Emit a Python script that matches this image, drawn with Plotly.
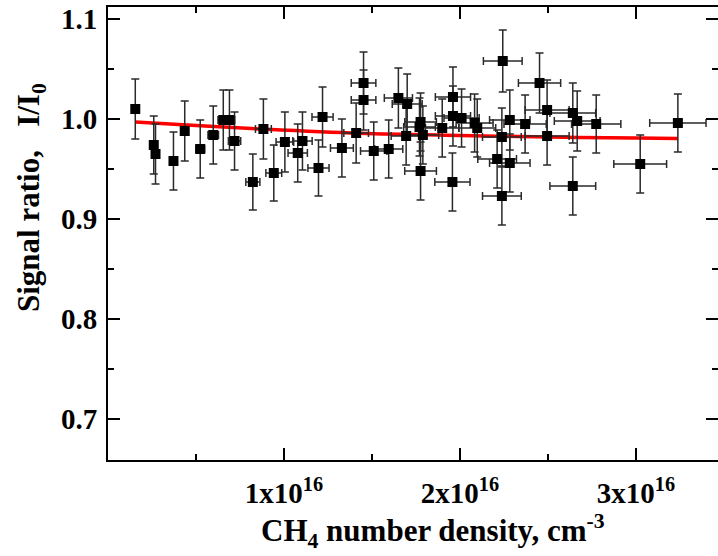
import numpy as np
import plotly.graph_objects as go

# CH4 number density (units of 1e16 cm^-3) and signal ratio I/I0
n_ch4 = [0.155, 0.26, 0.27, 0.372, 0.436, 0.524, 0.598, 0.655, 0.69, 0.719,
         0.823, 0.883, 0.942, 1.005, 1.078, 1.105, 1.196, 1.219, 1.329, 1.410,
         1.452, 1.452, 1.51, 1.595, 1.65, 1.694, 1.70, 1.77, 1.776, 1.776,
         1.789, 1.899, 1.957, 1.96, 1.96, 2.009, 2.083, 2.098, 2.211, 2.238,
         2.238, 2.243, 2.283, 2.283, 2.37, 2.452, 2.495, 2.495, 2.641, 2.641,
         2.666, 2.774, 3.024, 3.238]
ratio = [1.010, 0.974, 0.965, 0.958, 0.988, 0.970, 0.984, 0.999, 0.999, 0.978,
         0.937, 0.990, 0.946, 0.977, 0.966, 0.978, 0.951, 1.002, 0.971, 0.986,
         1.036, 1.019, 0.968, 0.970, 1.021, 0.983, 1.015, 0.992, 0.997, 0.948,
         0.984, 0.991, 0.937, 1.022, 1.003, 1.001, 0.996, 0.991, 0.960, 0.982,
         0.923, 1.058, 0.999, 0.956, 0.995, 1.036, 1.009, 0.983, 1.006, 0.933,
         0.998, 0.995, 0.955, 0.996]
n_err = [0.0, 0.01, 0.01, 0.015, 0.02, 0.025, 0.03, 0.03, 0.03, 0.035,
         0.04, 0.045, 0.045, 0.05, 0.055, 0.055, 0.06, 0.06, 0.065, 0.07,
         0.07, 0.07, 0.075, 0.08, 0.08, 0.085, 0.085, 0.09, 0.09, 0.09,
         0.09, 0.095, 0.10, 0.10, 0.10, 0.10, 0.105, 0.105, 0.11, 0.11,
         0.11, 0.11, 0.115, 0.115, 0.12, 0.12, 0.125, 0.125, 0.13, 0.13,
         0.13, 0.14, 0.15, 0.16]
ratio_err = [0.030, 0.029, 0.030, 0.029, 0.030, 0.029, 0.029, 0.030, 0.030, 0.029,
             0.028, 0.030, 0.028, 0.030, 0.029, 0.029, 0.028, 0.030, 0.029, 0.030,
             0.031, 0.030, 0.029, 0.029, 0.030, 0.029, 0.030, 0.029, 0.029, 0.029,
             0.029, 0.029, 0.029, 0.030, 0.030, 0.029, 0.029, 0.029, 0.029, 0.029,
             0.029, 0.031, 0.030, 0.029, 0.029, 0.030, 0.030, 0.029, 0.030, 0.029,
             0.030, 0.029, 0.029, 0.029]

# fitted curve (red)
fit_n = [0.155, 0.5, 0.9, 1.43, 2.0, 2.5, 3.0, 3.238]
fit_ratio = [0.997, 0.9935, 0.9897, 0.9857, 0.9835, 0.982, 0.981, 0.9805]

x_tickvals = [1, 2, 3]
x_ticktext = ["1x10<sup>16</sup>", "2x10<sup>16</sup>", "3x10<sup>16</sup>"]
y_tickvals = [0.7, 0.8, 0.9, 1.0, 1.1]
y_ticktext = ["0.7", "0.8", "0.9", "1.0", "1.1"]

FONT = "Liberation Serif"

fig = go.Figure()

fig.add_trace(go.Scatter(
    x=fit_n, y=fit_ratio, mode="lines", line_shape="spline",
    line=dict(color="#ff0000", width=3.5), hoverinfo="skip"
))

fig.add_trace(go.Scatter(
    x=n_ch4, y=ratio, mode="markers",
    marker=dict(symbol="square", size=10, color="black"),
    error_x=dict(type="data", array=n_err, color="#2a2a2a", thickness=1.5, width=4),
    error_y=dict(type="data", array=ratio_err, color="#2a2a2a", thickness=1.5, width=4),
))

axis_common = dict(
    showline=True, linecolor="black", linewidth=2, mirror="ticks",
    ticks="inside", ticklen=12, tickwidth=2, tickcolor="black",
    showgrid=False, zeroline=False, automargin=False,
    tickfont=dict(family=FONT, size=29, color="black", weight="bold"),
)

fig.update_xaxes(
    range=[0, 3.466], tickvals=x_tickvals, ticktext=x_ticktext,
    ticklabelstandoff=6,
    minor=dict(dtick=0.5, tick0=0, ticks="inside", ticklen=6, tickwidth=2, tickcolor="black"),
    **axis_common
)
fig.update_yaxes(
    range=[0.659, 1.112], tickvals=y_tickvals, ticktext=y_ticktext,
    ticklabelstandoff=3,
    minor=dict(dtick=0.05, tick0=0.7, ticks="inside", ticklen=6, tickwidth=2, tickcolor="black"),
    **axis_common
)

title_font = dict(family=FONT, size=31, color="black", weight="bold")
fig.add_annotation(
    text="CH<sub>4</sub> number density, cm<sup>-3</sup>",
    xref="paper", yref="paper", x=0.533, y=-0.156,
    xanchor="center", yanchor="middle", showarrow=False, font=title_font
)
fig.add_annotation(
    text="Signal ratio,   I/I<sub>0</sub>", textangle=-90,
    xref="paper", yref="paper", x=-0.125, y=0.58,
    xanchor="center", yanchor="middle", showarrow=False, font=title_font
)

fig.update_layout(
    width=718, height=556,
    margin=dict(l=108, r=0, t=7, b=96),
    paper_bgcolor="white", plot_bgcolor="white",
    showlegend=False,
)

# page body has a default 8px margin; drop it so the figure sits at the window corner
fig.write_html("out.html", config={"displayModeBar": False},
               post_script="document.body.style.margin='0';")
